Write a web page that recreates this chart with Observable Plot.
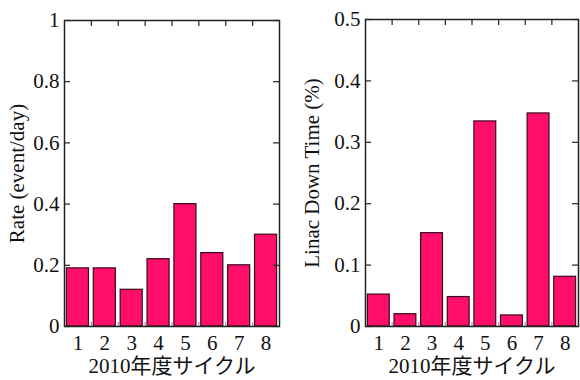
<!DOCTYPE html>
<html>
<head>
<meta charset="utf-8">
<script src="https://cdn.jsdelivr.net/npm/d3@7"></script>
<script src="https://cdn.jsdelivr.net/npm/@observablehq/plot@0.6"></script>
<style>
  html, body { margin: 0; padding: 0; background: #fff; }
  #wrap { display: flex; flex-direction: row; width: 580px; height: 380px; }
  #wrap svg { display: block; }
</style>
</head>
<body>
<div id="wrap"></div>
<script>
const cycles = [1, 2, 3, 4, 5, 6, 7, 8];
const rates = [0.19, 0.19, 0.12, 0.22, 0.40, 0.24, 0.20, 0.30];
const downTimes = [0.052, 0.020, 0.152, 0.048, 0.334, 0.018, 0.347, 0.081];
const rateTicks = [0, 0.2, 0.4, 0.6, 0.8, 1];
const downTicks = [0, 0.1, 0.2, 0.3, 0.4, 0.5];
const xTitle = "2010年度サイクル";
const rateTitle = "Rate (event/day)";
const downTitle = "Linac Down Time (%)";
const FONT = "'Liberation Serif', 'Noto Sans CJK JP', serif";

function panel({values, yTicks, yLabel, marginLeft, marginRight, marginTop, yLabelOffset}) {
  const data = cycles.map((c, i) => ({c, v: values[i]}));
  const bounds = cycles.slice(0, -1).map(c => c + 0.5);
  const W = 290, H = 380, mb = 54;
  const pw = W - marginLeft - marginRight, ph = H - marginTop - mb;
  return Plot.plot({
    width: W, height: H, marginLeft, marginRight, marginTop, marginBottom: mb,
    style: {fontFamily: FONT, fontSize: "21px", color: "#111", background: "white", overflow: "visible"},
    x: {domain: [cycles[0] - 0.5, cycles[cycles.length - 1] + 0.5], axis: null},
    y: {domain: [yTicks[0], yTicks[yTicks.length - 1]], axis: null},
    marks: [
      Plot.rectY(data, {x1: d => d.c - 0.41, x2: d => d.c + 0.41, y: "v", fill: "#ff0f6a", stroke: "#3a0818", strokeWidth: 1.2}),
      Plot.tickY(yTicks, {y: d => d, stroke: "#222", strokeWidth: 1.2, insetRight: pw - 6}),
      Plot.tickY(yTicks, {y: d => d, stroke: "#222", strokeWidth: 1.2, insetLeft: pw - 6}),
      Plot.tickX(bounds, {x: d => d, stroke: "#222", strokeWidth: 1.2, insetBottom: ph - 6}),
      Plot.tickX(bounds, {x: d => d, stroke: "#999", strokeWidth: 1.2, insetTop: ph - 4}),
      Plot.frame({stroke: "#222", strokeWidth: 1.5}),
      Plot.axisY({ticks: yTicks, tickSize: 0, tickPadding: 5, tickFormat: d => String(d), label: yLabel, labelArrow: "none", labelAnchor: "center", labelOffset: yLabelOffset, fontSize: 21, fontFamily: FONT}),
      Plot.axisX({ticks: cycles, tickSize: 0, tickPadding: 9, tickFormat: d => String(d), label: xTitle, labelArrow: "none", labelAnchor: "center", labelOffset: 46, fontSize: 21, fontFamily: FONT})
    ]
  });
}

const wrap = document.getElementById("wrap");
wrap.append(panel({values: rates, yTicks: rateTicks, yLabel: rateTitle, marginLeft: 64, marginRight: 11, marginTop: 20, yLabelOffset: 55}));
wrap.append(panel({values: downTimes, yTicks: downTicks, yLabel: downTitle, marginLeft: 75, marginRight: 2, marginTop: 19, yLabelOffset: 61}));
</script>
</body>
</html>
